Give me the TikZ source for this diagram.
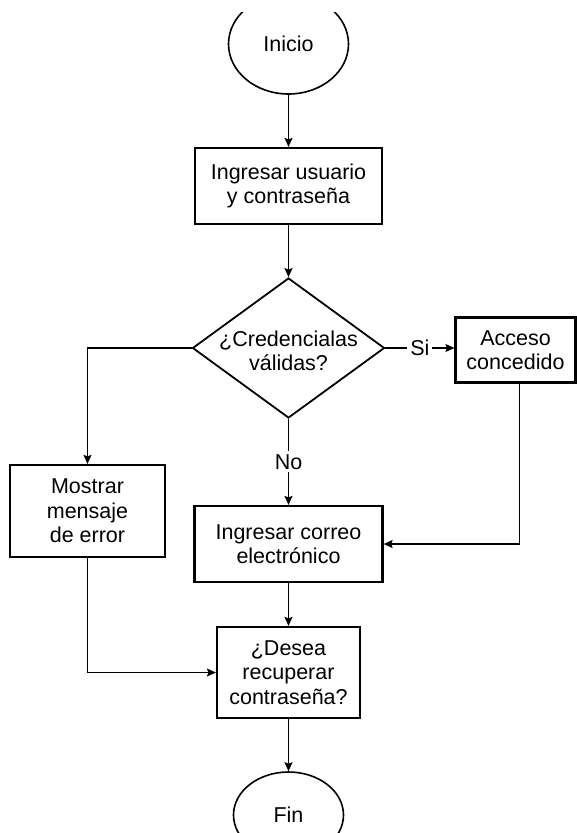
\documentclass[tikz,border=0pt]{standalone}
\usepackage{fontspec}
\setmainfont{Liberation Sans}
\usetikzlibrary{shapes.geometric,arrows.meta}
\begin{document}
\begin{tikzpicture}[x=1pt,y=-1pt,
  every node/.style={font=\fontsize{21.5}{24.5}\selectfont, align=center, inner sep=0pt},
  terminal/.style={draw, ellipse, line width=1.6pt},
  process/.style={draw, rectangle, line width=2.2pt},
  decision/.style={draw, diamond, line width=1.8pt},
  flow/.style={line width=1.4pt, -{Stealth[length=9pt,width=8pt,inset=1.5pt]}},
  tag/.style={fill=white, inner sep=3pt}]
\useasboundingbox (0,0) rectangle (577,833);
\clip (0,12) rectangle (577,833);

% nodes
\node[terminal, minimum width=120pt, minimum height=100pt] (start) at (288.5,44) {Inicio};
\node[process, minimum width=187pt, minimum height=76pt] (login) at (288.5,186) {Ingresar usuario\\y contraseña};
\node[decision, minimum width=192pt, minimum height=140pt] (check) at (288.5,348) {};
\node (checktext) at (288.5,351) {¿Credencialas\\válidas?};
\node[process, minimum width=120pt, minimum height=65pt] (granted) at (515.5,350) {Acceso\\concedido};
\node[process, minimum width=155pt, minimum height=92pt] (errmsg) at (87.5,511) {Mostrar\\mensaje\\de error};
\node[process, minimum width=188pt, minimum height=76pt] (email) at (288.5,544) {Ingresar correo\\electrónico};
\node[process, minimum width=143pt, minimum height=91pt] (recover) at (288.5,672.5) {¿Desea\\recuperar\\contraseña?};
\node[terminal, minimum width=110pt, minimum height=86pt] (stop) at (288.5,815) {Fin};

% connectors
\draw[flow] (start) -- (login);
\draw[flow] (login) -- (check);
\draw[flow] (check.east) -- node[tag]{Si} (check.east -| granted.west);
\draw[flow] (check.south) -- node[tag]{No} (email.north);
\draw[flow] (check.west) -| (errmsg.north);
\draw[flow] ([xshift=4pt]granted.south) |- (email.east);
\draw[flow] (email) -- (recover);
\draw[flow] (errmsg.south) |- (recover.west);
\draw[flow] (recover) -- (stop);
\end{tikzpicture}
\end{document}
